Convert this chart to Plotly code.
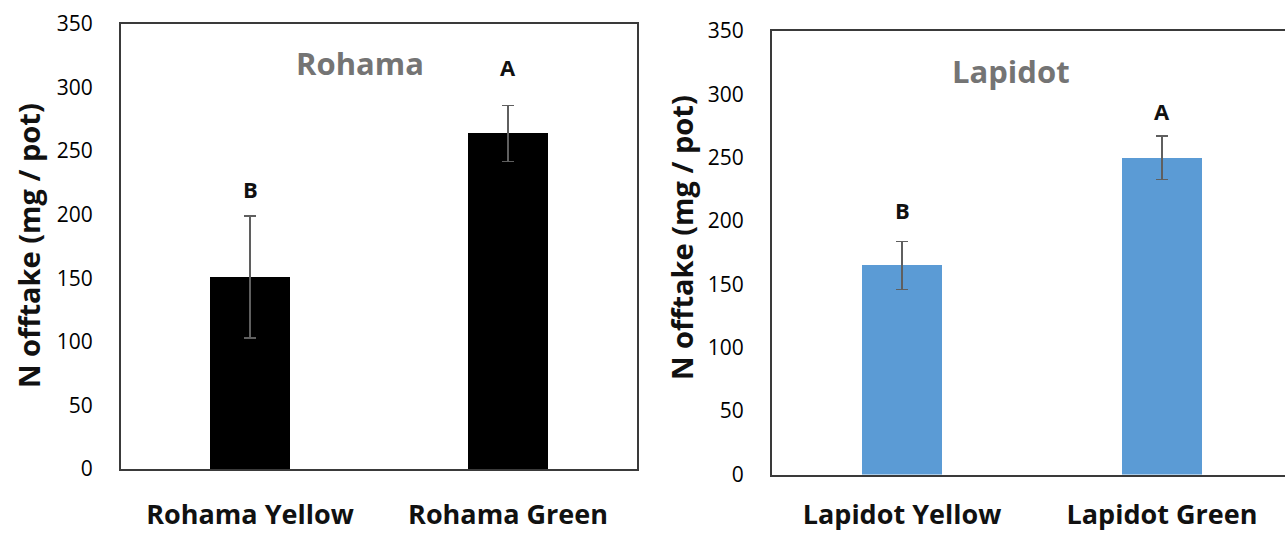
import plotly.graph_objects as go

# N offtake per pot for two wheat cultivars, yellow vs green leaves
rohama_labels = ["Rohama Yellow", "Rohama Green"]
rohama_means = [151, 264]
rohama_errors = [48, 22]
rohama_letters = ["B", "A"]

lapidot_labels = ["Lapidot Yellow", "Lapidot Green"]
lapidot_means = [165, 250]
lapidot_errors = [19, 17]
lapidot_letters = ["B", "A"]

y_ticks = [0, 50, 100, 150, 200, 250, 300, 350]

W, H = 1285, 535
FONT = "Open Sans"
AXIS_COLOR = "#3a3a3a"
ERR_COLOR = "#5f5f5f"


def px_x(v):
    return v / W


def px_y(v):
    return 1 - v / H


fig = go.Figure()

fig.add_trace(go.Bar(
    x=rohama_labels, y=rohama_means, width=0.31,
    marker=dict(color="#000000", line=dict(width=0)),
    error_y=dict(type="data", array=rohama_errors, color=ERR_COLOR,
                 thickness=1.5, width=6),
    xaxis="x", yaxis="y", showlegend=False,
))
fig.add_trace(go.Bar(
    x=lapidot_labels, y=lapidot_means, width=0.31,
    marker=dict(color="#5b9bd5", line=dict(width=0)),
    error_y=dict(type="data", array=lapidot_errors, color=ERR_COLOR,
                 thickness=1.5, width=6),
    xaxis="x2", yaxis="y2", showlegend=False,
))

tick_font = dict(family=FONT, size=21, color="#000000")
cat_font = dict(family=FONT, size=27, color="#111111", weight="bold")

common_x = dict(showgrid=False, zeroline=False, showline=True, linewidth=2,
                linecolor=AXIS_COLOR, mirror=True, ticks="",
                tickfont=cat_font, fixedrange=True, automargin=False)
common_y = dict(showgrid=False, zeroline=False, showline=True, linewidth=2,
                linecolor=AXIS_COLOR, ticks="", range=[0, 350],
                tickvals=y_ticks, tickfont=tick_font,
                ticklabelstandoff=22, fixedrange=True, automargin=False)

fig.update_layout(
    width=W, height=H,
    margin=dict(l=0, r=0, t=0, b=0, autoexpand=False),
    paper_bgcolor="white", plot_bgcolor="white",
    bargap=0,
    xaxis=dict(common_x, domain=[px_x(121), px_x(637)], range=[-0.5, 1.5],
               anchor="y", ticklabelstandoff=21),
    yaxis=dict(common_y, domain=[px_y(469), px_y(24)], anchor="x",
               mirror=True),
    xaxis2=dict(common_x, domain=[px_x(772), 1.0],
                range=[-0.5, -0.5 + (W - 772) / 260], anchor="y2",
                ticklabelstandoff=15),
    yaxis2=dict(common_y, domain=[px_y(474.5), px_y(31)], anchor="x2",
                mirror=False),
)

# significance letters above each error bar
letter_gap = {"x": [21, 30], "x2": [25, 20]}
letter_font = dict(family=FONT, size=22, color="#111111", weight="bold")
for xref, yref, labels, means, errs, letters in [
    ("x", "y", rohama_labels, rohama_means, rohama_errors, rohama_letters),
    ("x2", "y2", lapidot_labels, lapidot_means, lapidot_errors, lapidot_letters),
]:
    for i, (lab, m, e, let) in enumerate(zip(labels, means, errs, letters)):
        fig.add_annotation(x=lab, y=m + e + letter_gap[xref][i], text=let,
                           xref=xref, yref=yref, showarrow=False,
                           xanchor="center", yanchor="middle",
                           font=letter_font)

# panel titles
title_font = dict(family=FONT, size=31, color="#747474", weight="bold")
fig.add_annotation(x=px_x(360), y=px_y(63), xref="paper", yref="paper",
                   text="Rohama", showarrow=False, font=title_font,
                   xanchor="center", yanchor="middle")
fig.add_annotation(x=px_x(1011), y=px_y(71), xref="paper", yref="paper",
                   text="Lapidot", showarrow=False, font=title_font,
                   xanchor="center", yanchor="middle")

# y-axis titles
ytitle_font = dict(family=FONT, size=29, color="#111111", weight="bold")
fig.add_annotation(x=px_x(29), y=px_y(246), xref="paper", yref="paper",
                   text="N offtake (mg / pot)", textangle=-90,
                   showarrow=False, font=ytitle_font,
                   xanchor="center", yanchor="middle")
fig.add_annotation(x=px_x(681), y=px_y(238), xref="paper", yref="paper",
                   text="N offtake (mg / pot)", textangle=-90,
                   showarrow=False, font=ytitle_font,
                   xanchor="center", yanchor="middle")

fig.write_html("out.html", config={"displayModeBar": False})
